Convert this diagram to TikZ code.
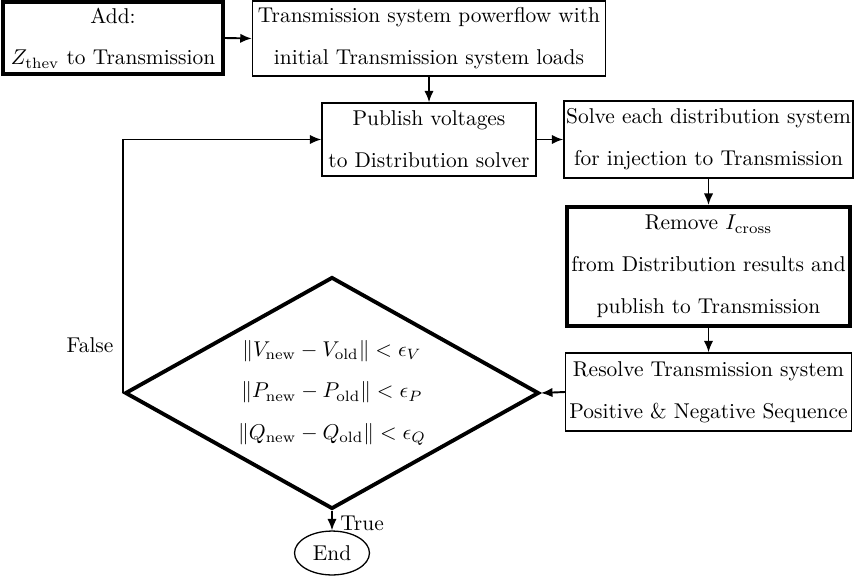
\documentclass[tikz,border=0pt]{standalone}
\usepackage{amsmath}
\usetikzlibrary{shapes.geometric,arrows.meta}
\begin{document}
\begin{tikzpicture}[
  x=0.467pt, y=-0.467pt,
  every node/.style={font=\fontsize{10}{19.5}\selectfont, align=center, inner sep=1pt},
  plainbox/.style={draw, semithick, rectangle},
  boldbox/.style={draw, line width=1.8pt, rectangle},
  decision/.style={draw, line width=1.8pt, diamond, aspect=1.78, inner sep=0pt},
  terminal/.style={draw, semithick, ellipse, inner sep=0pt},
  arr/.style={-{Latex[length=5.4pt,width=4.4pt]}, line width=0.9pt}
]
\useasboundingbox (0,0) rectangle (854,583);

% process boxes
\node[boldbox, minimum width=102.7pt, minimum height=33.6pt] (add) at (113,38)
  {Add:\\ $Z_\mathrm{thev}$ to Transmission};
\node[plainbox, minimum width=164.9pt, minimum height=35pt] (pf) at (429,38.5)
  {Transmission system powerflow with\\ initial Transmission system loads};
\node[plainbox, minimum width=99.9pt, minimum height=34.1pt] (pub) at (429,139.5)
  {Publish voltages\\ to Distribution solver};
\node[plainbox, minimum width=135pt, minimum height=36pt] (solve) at (708.5,139.5)
  {Solve each distribution system\\ for injection to Transmission};
\node[boldbox, minimum width=132.2pt, minimum height=55.6pt] (rem) at (708.5,266.5)
  {Remove $I_\mathrm{cross}$\\ from Distribution results and\\ publish to Transmission};
\node[plainbox, minimum width=133.6pt, minimum height=36.4pt] (res) at (708.5,392)
  {Resolve Transmission system\\ Positive \& Negative Sequence};

% convergence test
\node[decision, minimum width=193.3pt, minimum height=108.3pt] (conv) at (332,393)
  {$\|V_\mathrm{new}-V_\mathrm{old}\|<\epsilon_V$\\
   $\|P_\mathrm{new}-P_\mathrm{old}\|<\epsilon_P$\\
   $\|Q_\mathrm{new}-Q_\mathrm{old}\|<\epsilon_Q$};

\node[terminal, minimum width=35pt, minimum height=20.5pt] (fin) at (332,553) {End};

% labels
\node (flabel) at (90,345) {False};
\node (tlabel) at (362,523) {True};

% connectors
\draw[arr] (add.east) -- (pf.west);
\draw[arr] (pf.south) -- (pub.north);
\draw[arr] (pub.east) -- (solve.west);
\draw[arr] (solve.south) -- (rem.north);
\draw[arr] (rem.south) -- (res.north);
\draw[arr] (res.west) -- (conv.east);
\draw[arr] (conv.west) |- (pub.west);
\draw[arr] (conv.south) -- (fin.north);
\end{tikzpicture}
\end{document}
